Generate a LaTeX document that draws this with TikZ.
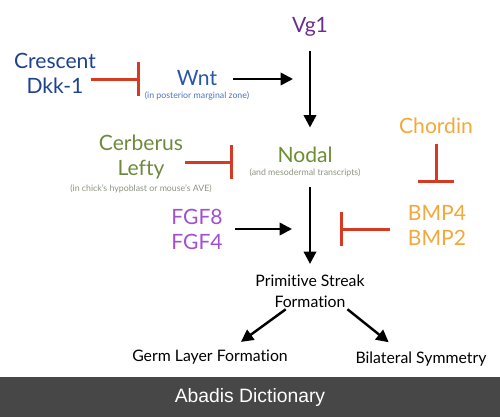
\documentclass[tikz,border=0pt]{standalone}
\usepackage{fontspec}
\setmainfont{Lato}[Ligatures=NoCommon]
\setsansfont{Liberation Sans}
\usepackage{tikz}
\usetikzlibrary{arrows.meta, positioning}
\usepackage{xcolor}
\definecolor{vgpurple}{HTML}{6B2E8F}
\definecolor{dkkblue}{HTML}{1E4290}
\definecolor{wntblue}{HTML}{2B55A5}
\definecolor{wntsub}{HTML}{4F74B8}
\definecolor{cerbgreen}{HTML}{6E8B3D}
\definecolor{nodalgreen}{HTML}{6B8E35}
\definecolor{subgray}{HTML}{8C9580}
\definecolor{bmporange}{HTML}{F2A93B}
\definecolor{fgfpurple}{HTML}{A050D0}
\definecolor{inhred}{HTML}{D73A22}
\definecolor{banner}{HTML}{474747}

\begin{document}
\begin{tikzpicture}[
    x=0.02cm, y=-0.02cm,
    node distance=1pt,
    every node/.style={font=\fontsize{12}{14.2}\selectfont, align=center, inner sep=1pt},
    sub/.style={font=\fontsize{5}{6}\selectfont},
    small/.style={font=\fontsize{9}{11.7}\selectfont},
    arr/.style={-{Triangle[length=7pt, width=7pt]}, line width=1.4pt},
    inh/.style={-{Bar[width=19pt]}, line width=1.7pt, draw=inhred}
]
\useasboundingbox (0,0) rectangle (500,417);
\fill[banner] (0,377) rectangle (500,417);
\node (abadis) [white, font=\sffamily\fontsize{11}{12}\selectfont] at (250,397) {Abadis Dictionary};

\node (vg1) [text=vgpurple] at (310,27) {Vg1};
\node (crescent) [text=dkkblue] at (55,61) {Crescent};
\node (dkk1) [below=3pt of crescent, text=dkkblue] {Dkk-1};
\node (wnt) [text=wntblue] at (197,78) {Wnt};
\node (wntnote) [sub, below=of wnt, text=wntsub] {(in posterior marginal zone)};
\node (cerb) [text=cerbgreen] at (141,157) {Cerberus\\Lefty};
\node (cerbnote) [sub, below=of cerb, text=subgray] {(in chick's hypoblast or mouse's AVE)};
\node (nodal) [text=nodalgreen] at (305,155) {Nodal};
\node (nodalnote) [sub, below=of nodal, text=subgray] {(and mesodermal transcripts)};
\node (chordin) [text=bmporange] at (436,126) {Chordin};
\node (fgf) [text=fgfpurple] at (197,229) {FGF8\\FGF4};
\node (bmp) [text=bmporange] at (437,225) {BMP4\\BMP2};
\node (ps) [small] at (310,291) {Primitive Streak\\Formation};
\node (germ) [small] at (210,357) {Germ Layer Formation};
\node (bilat) [small] at (421,359) {Bilateral Symmetry};

\coordinate (wntbar) at (140,79);
\coordinate (wnttip) at (293,79);
\coordinate (nodalbar) at (233,162);
\coordinate (chordbar) at (436,183);
\coordinate (fgftip) at (292,229);
\coordinate (bmpbar) at (340,229);

% activation
\draw[arr, shorten <=8pt] (wnt.east |- wnttip) -- (wnttip);
\draw[arr, shorten <=7pt, shorten >=10pt] (vg1) -- (vg1 |- nodal.north);
\draw[arr, shorten <=4.5pt, shorten >=5pt] (vg1 |- nodalnote.south) -- (vg1 |- ps.north);
\draw[arr, shorten <=6pt] (fgf.east |- fgftip) -- (fgftip);
\draw[arr, shorten >=5.7pt] (ps.217) -- (germ.22);
\draw[arr, shorten >=6.8pt] (ps.334) -- (bilat.158);

% inhibition
\draw[inh, shorten <=3pt] (dkk1.east |- wntbar) -- (wntbar);
\draw[inh] (cerb.east |- nodalbar) -- (nodalbar);
\draw[inh, shorten <=9pt] (bmp.west |- bmpbar) -- (bmpbar);
\draw[inh, -{Bar[width=21pt]}, shorten <=4.5pt] (chordin) -- (chordbar);
\end{tikzpicture}
\end{document}
